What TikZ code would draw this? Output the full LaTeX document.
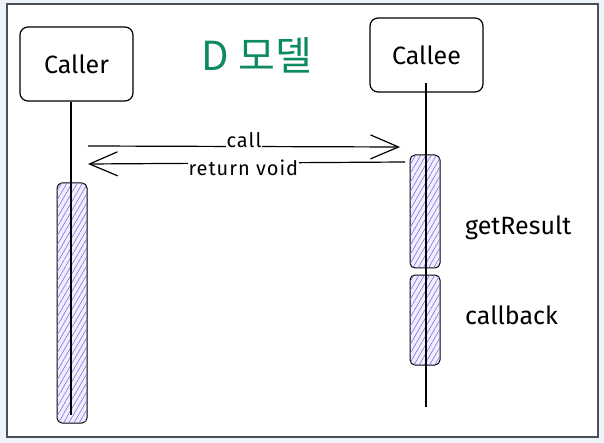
\documentclass[tikz,border=0pt]{standalone}
\usepackage{fontspec}
\setmainfont{Fira Sans}
\newfontfamily\krfont{Noto Sans CJK KR}
\usetikzlibrary{patterns.meta,arrows.meta}
\definecolor{bgout}{HTML}{EEF2F9}
\definecolor{frameline}{HTML}{4A4F5A}
\definecolor{ttlgreen}{HTML}{0E8A5F}
\definecolor{hatch}{HTML}{7C6EE6}
\definecolor{barfill}{HTML}{F1EFFD}
\tikzset{
  actor/.style={draw=black, line width=1.2pt, rounded corners=8pt, fill=white, minimum width=113pt, minimum height=74pt, font=\fontsize{25}{28}\selectfont},
  bar/.style={draw=black, line width=1pt, rounded corners=5pt, fill=barfill, postaction={pattern={Lines[angle=60, distance=4.5pt, line width=0.6pt]}, pattern color=hatch}},
  life/.style={line width=1.2pt, black},
  msg/.style={line width=1.2pt, -{Straight Barb[length=28pt, width=24pt, line width=1.2pt]}},
  lbl/.style={font=\fontsize{25}{28}\selectfont, inner sep=1pt},
  lblw/.style={font=\fontsize{20}{21}\selectfont\addfontfeature{LetterSpace=5}, fill=white, inner sep=0.5pt},
}
\begin{document}
\begin{tikzpicture}[x=1pt,y=-1pt]
\fill[bgout] (0,0) rectangle (604,443);
\draw[frameline, line width=1.2pt, fill=white] (7,4) rectangle (598,437);
\useasboundingbox (0,0) rectangle (604,443);
% actors
\node[actor] (caller) at (76.5,64) {Caller};
\node[actor] (callee) at (426.5,55) {Callee};
\node[font=\fontsize{40}{44}\selectfont\krfont, text=ttlgreen] (title) at (257,55) {D 모델};
% lifelines
\coordinate (clend) at (71,415);
\coordinate (ceend) at (426,407);
% activation bars
\node[bar, minimum width=30pt, minimum height=240pt, inner sep=0pt] (actA) at (72,303) {};
\node[bar, minimum width=30pt, minimum height=113pt, inner sep=0pt] (actB) at (425,211.5) {};
\node[bar, minimum width=30pt, minimum height=90pt, inner sep=0pt] (actC) at (425,320) {};
\draw[life] (caller.south -| clend) -- (clend);
\draw[life] (426,83) -- (ceend);
% messages
\coordinate (callS) at (88,146);
\coordinate (callE) at (400,147);
\coordinate (retS) at (405,162);
\coordinate (retE) at (88,164);
\draw[msg] (callS) -- node[lblw, pos=0.5, yshift=6pt] (calllbl) {call} (callE);
\draw[msg] (retS) -- node[lblw, pos=0.51, yshift=-5pt] (retlbl) {return void} (retE);
% side labels
\node[lbl, anchor=west] (gr) at (464,228) {getResult};
\node[lbl, anchor=west] (cb) at (464,315) {callback};
\end{tikzpicture}
\end{document}
